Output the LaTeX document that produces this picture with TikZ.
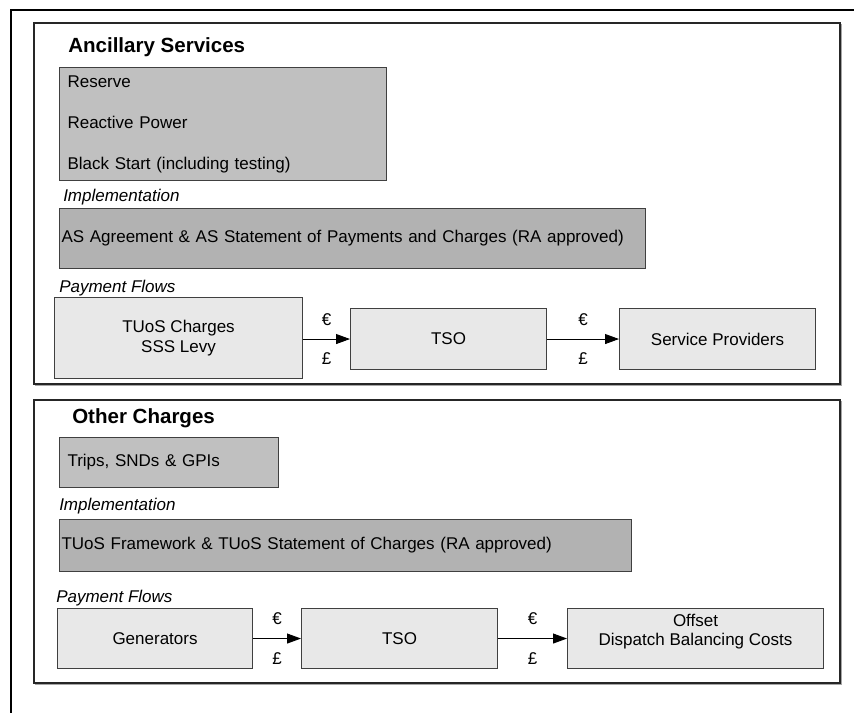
\documentclass[tikz,border=0pt]{standalone}
\usepackage{fontspec}
\setmainfont{Liberation Sans}
\usetikzlibrary{arrows.meta}
\definecolor{boxA}{HTML}{C0C0C0}
\definecolor{boxB}{HTML}{B2B2B2}
\definecolor{boxC}{HTML}{E8E8E8}
\definecolor{edge}{HTML}{404040}
\begin{document}
\begin{tikzpicture}[x=0.75pt,y=-0.75pt,
  txt/.style={inner sep=0pt, font=\fontsize{12.75}{15}\selectfont},
  lab/.style={inner sep=0pt, font=\fontsize{12.75}{15}\selectfont\itshape, anchor=west},
  ttl/.style={inner sep=0pt, font=\fontsize{15.4}{18}\selectfont\bfseries, anchor=west},
  panel/.style={draw=black!85, line width=0.9pt},
  box/.style={draw=edge, line width=0.8pt, inner ysep=0pt, anchor=north west,
    font=\fontsize{12.75}{15}\selectfont},
  pbox/.style={box, fill=boxC, align=center, inner xsep=0pt, font=\fontsize{12.75}{14.8}\selectfont},
  arr/.style={-{Triangle[length=10.5pt,width=7.5pt]}, line width=0.7pt, black},
  cur/.style={inner sep=0pt, font=\fontsize{12.75}{15}\selectfont}
]
\useasboundingbox (0,0) rectangle (854,713);
% outer frame
\draw[line width=2pt] (11,713) -- (11,10) -- (854,10);
% panels
\draw[black!35, line width=0.9pt] (35,385) -- (841,385) -- (841,24);
\draw[panel] (34,23) rectangle (840,384);
\draw[black!35, line width=0.9pt] (35,684) -- (841,684) -- (841,401);
\draw[panel] (34,400) rectangle (840,683);

% ---- Ancillary Services ----
\node[ttl] (t1) at (68,47) {Ancillary Services};
\node[box, fill=boxA, minimum width=245.25pt, minimum height=84.75pt,
  text width=233.25pt, inner xsep=6pt, align=left,
  font=\fontsize{12.75}{30.75}\selectfont] (services) at (59,67)
  {Reserve\\Reactive Power\\Black Start (including testing)};
\node[lab] (impl1) at (63,197) {Implementation};
\node[box, fill=boxB, minimum width=439.5pt, minimum height=45pt,
  text width=436.5pt, inner xsep=1.5pt, align=left] (agree) at (59,208)
  {AS Agreement \& AS Statement of Payments and Charges (RA approved)};
\node[lab] (pf1) at (59,288) {Payment Flows};
\node[pbox, minimum width=186pt, minimum height=60.75pt] (tuos) at (54,297)
  {TUoS Charges\\SSS Levy};
\node[pbox, minimum width=147pt, minimum height=45.75pt] (tso1) at (350,308) {TSO};
\node[pbox, minimum width=147pt, minimum height=45.75pt] (sp) at (619,308) {Service Providers};
\draw[arr] (tso1.west -| tuos.east) -- (tso1.west)
  node[cur, midway, yshift=14.5pt] (e1) {€}
  node[cur, midway, yshift=-15pt] (p1) {£};
\draw[arr] (tso1.east) -- (sp.west)
  node[cur, midway, yshift=14.5pt] (e2) {€}
  node[cur, midway, yshift=-15pt] (p2) {£};

% ---- Other Charges ----
\node[ttl] (t2) at (72,418) {Other Charges};
\node[box, fill=boxA, minimum width=164.25pt, minimum height=37.5pt,
  text width=152.25pt, inner xsep=6pt, align=left] (trips) at (59,437)
  {Trips, SNDs \& GPIs};
\node[lab] (impl2) at (59,506) {Implementation};
\node[box, fill=boxB, minimum width=429pt, minimum height=39pt,
  text width=426pt, inner xsep=1.5pt, align=left] (frame) at (59,519)
  {TUoS Framework \& TUoS Statement of Charges (RA approved)};
\node[lab] (pf2) at (56,598) {Payment Flows};
\node[pbox, minimum width=146.25pt, minimum height=45pt] (gen) at (57,608) {Generators};
\node[pbox, minimum width=147pt, minimum height=45pt] (tso2) at (301,608) {TSO};
\node[pbox, minimum width=192pt, minimum height=45pt] (offset) at (567,608) {};
\node[txt, align=center, font=\fontsize{12.75}{14.3}\selectfont] (offtxt)
  at ([yshift=5.25pt]offset.center) {Offset\\Dispatch Balancing Costs};
\draw[arr] (gen.east) -- (tso2.west)
  node[cur, midway, yshift=15pt] (e3) {€}
  node[cur, midway, yshift=-15pt] (p3) {£};
\draw[arr] (tso2.east) -- (offset.west)
  node[cur, midway, yshift=15pt] (e4) {€}
  node[cur, midway, yshift=-15pt] (p4) {£};
\end{tikzpicture}
\end{document}
